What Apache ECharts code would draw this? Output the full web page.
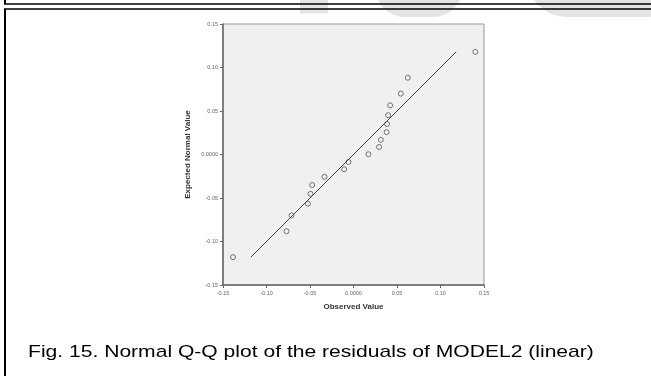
<!DOCTYPE html>
<html>
<head>
<meta charset="utf-8">
<script src="https://cdn.jsdelivr.net/npm/echarts@6/dist/echarts.min.js"></script>
<style>
  html, body { margin: 0; padding: 0; background: #fff; }
  #chart { width: 651px; height: 376px; }
</style>
</head>
<body>
<div id="chart"></div>
<script>
// residuals (observed) vs expected normal values
const observed = [-0.1385, -0.0770, -0.0712, -0.0524, -0.0494, -0.0475, -0.0334, -0.0107, -0.0058,
  0.0172, 0.0294, 0.0314, 0.0381, 0.0386, 0.0398, 0.0421, 0.0544, 0.0624, 0.1400];
const expected = [-0.1180, -0.0882, -0.0700, -0.0565, -0.0452, -0.0351, -0.0257, -0.0169, -0.0086,
  0.0003, 0.0086, 0.0169, 0.0257, 0.0351, 0.0452, 0.0565, 0.0700, 0.0882, 0.1180];
const refLine = [-0.1180, 0.1180];
const tickLabels = ['-0.15', '-0.10', '-0.05', '0.0000', '0.05', '0.10', '0.15'];

const caption = 'Fig. 15. Normal Q-Q plot of the residuals of MODEL2 (linear)';

function tickText(v) {
  const i = Math.round((v + 0.15) / 0.05);
  return tickLabels[i] || '';
}

const chart = echarts.init(document.getElementById('chart'));

const axisCommon = {
  type: 'value',
  min: -0.15,
  max: 0.15,
  interval: 0.05,
  nameLocation: 'middle',
  nameTextStyle: { fontFamily: 'Liberation Sans, Arial, sans-serif', fontSize: 8, fontWeight: 'bold', color: '#333' },
  axisLine: { show: true, onZero: false, lineStyle: { color: '#666', width: 1.5 } },
  axisTick: { show: true, length: 3, lineStyle: { color: '#666' } },
  axisLabel: { fontFamily: 'Liberation Sans, Arial, sans-serif', fontSize: 5.5, color: '#666', margin: 5, formatter: tickText },
  splitLine: { show: false }
};

chart.setOption({
  animation: false,
  backgroundColor: '#fff',
  grid: {
    left: 223, top: 24, right: 167, bottom: 91,
    show: true, backgroundColor: '#f0f0f0', borderColor: '#999', borderWidth: 1
  },
  xAxis: Object.assign({}, axisCommon, { name: 'Observed Value', nameGap: 18 }),
  yAxis: Object.assign({}, axisCommon, { name: 'Expected Normal Value', nameGap: 31 }),
  graphic: [
    // faint watermark shapes at the top
    { type: 'rect', z: -10, shape: { x: 300, y: 0, width: 28, height: 13.5 }, style: { fill: '#e4e4e4' } },
    { type: 'rect', z: -10, shape: { x: 375, y: -40, width: 88, height: 57, r: [0, 0, 30, 30] }, style: { fill: '#e4e4e4' } },
    { type: 'rect', z: -10, shape: { x: 527, y: -40, width: 160, height: 57, r: [0, 0, 40, 40] }, style: { fill: '#e4e4e4' } },
    // page frames
    { type: 'line', shape: { x1: 4, y1: 4, x2: 651, y2: 4 }, style: { stroke: '#000', lineWidth: 1.5 } },
    { type: 'line', shape: { x1: 5, y1: 0, x2: 5, y2: 4 }, style: { stroke: '#000', lineWidth: 2 } },
    { type: 'line', shape: { x1: 4, y1: 9, x2: 651, y2: 9 }, style: { stroke: '#000', lineWidth: 1.5 } },
    { type: 'line', shape: { x1: 5, y1: 9, x2: 5, y2: 376 }, style: { stroke: '#000', lineWidth: 2 } },
    {
      type: 'text', x: 28, y: 352.5, scaleX: 1.24,
      style: { text: caption, font: '17px "Liberation Sans", Arial, sans-serif', fill: '#000', verticalAlign: 'middle' }
    }
  ],
  series: [
    {
      type: 'line',
      data: [[refLine[0], refLine[0]], [refLine[1], refLine[1]]],
      symbol: 'none',
      silent: true,
      lineStyle: { color: '#444', width: 1 }
    },
    {
      type: 'scatter',
      data: observed.map((x, i) => [x, expected[i]]),
      symbol: 'circle',
      symbolSize: 5,
      itemStyle: { color: 'rgba(0,0,0,0)', borderColor: '#555', borderWidth: 1 }
    }
  ]
});

window.addEventListener('resize', () => chart.resize());
</script>
</body>
</html>
